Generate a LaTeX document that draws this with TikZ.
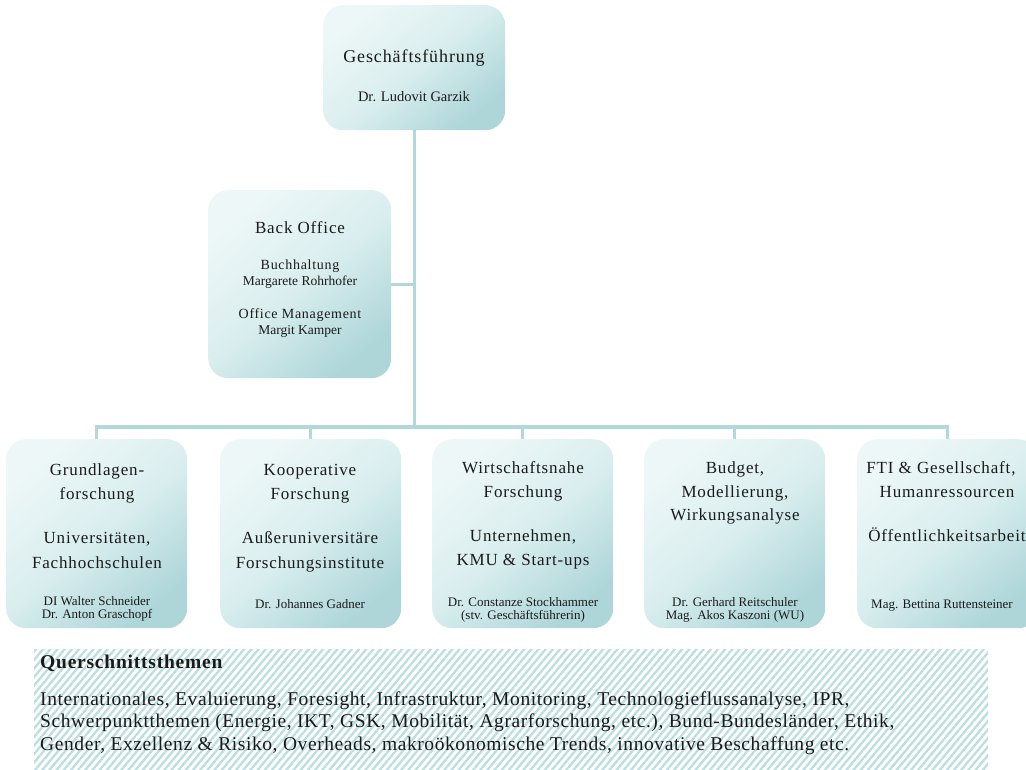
\documentclass[tikz,border=0pt]{standalone}
\usepackage{fontspec}
\setmainfont{Liberation Serif}
\newfontfamily\widefont[LetterSpace=5]{Liberation Serif}
\newfontfamily\qfont[LetterSpace=3]{Liberation Serif}
\newfontfamily\qbfont[LetterSpace=4]{Liberation Serif Bold}
\usetikzlibrary{patterns.meta}
\definecolor{linec}{HTML}{B3D8DC}
\definecolor{boxlight}{HTML}{EDF7F7}
\definecolor{boxmid}{HTML}{DAEEEF}
\definecolor{boxdark}{HTML}{AED6D9}
\definecolor{hatchc}{HTML}{BBDEDF}
\definecolor{txt}{HTML}{1A1A1A}
\tikzset{
  orgbox/.style={rounded corners=20pt, draw=none, inner sep=0pt,
    top color=boxlight, bottom color=boxdark, middle color=boxmid, shading angle=40,
    anchor=north west},
  conn/.style={draw=linec, line width=3.2pt},
  ttl/.style={font=\widefont\fontsize{17}{20}\selectfont, text=txt, anchor=base, inner sep=0pt},
  toptl/.style={font=\widefont\fontsize{18}{21}\selectfont, text=txt, anchor=base, inner sep=0pt},
  subt/.style={font=\widefont\fontsize{14}{17}\selectfont, text=txt, anchor=base, inner sep=0pt},
  pname/.style={font=\fontsize{13}{15}\selectfont, text=txt, anchor=base, inner sep=0pt},
  qtxt/.style={font=\qfont\fontsize{19.5}{22}\selectfont, text=txt, anchor=base west, inner sep=0pt},
  hatchbox/.style={draw=none, inner sep=0pt, anchor=north west,
    pattern={Lines[angle=50,distance=5.5pt,line width=2.3pt]}, pattern color=hatchc}
}
\begin{document}
\begin{tikzpicture}[x=1pt,y=-1pt]
\useasboundingbox (0,0) rectangle (1026,769);
% hatched box
\node[hatchbox, minimum width=954pt, minimum height=125pt] (qbox) at (33,648) {};
% boxes
\node[orgbox, minimum width=182pt, minimum height=125pt] (top) at (323,5) {};
\node[orgbox, minimum width=183pt, minimum height=188pt] (bo) at (208,190) {};
\node[orgbox, minimum width=181pt, minimum height=189pt] (b1) at (6,439) {};
\node[orgbox, minimum width=181pt, minimum height=189pt] (b2) at (220,439) {};
\node[orgbox, minimum width=181pt, minimum height=189pt] (b3) at (432,439) {};
\node[orgbox, minimum width=181pt, minimum height=189pt] (b4) at (644,439) {};
\node[orgbox, minimum width=181pt, minimum height=189pt] (b5) at (857,439) {};
% connectors
\coordinate (bus) at (414,427);
\draw[conn] (top.south) -- (top.south |- bus);
\draw[conn] (bo.east) -- (bo.east -| top.south);
\draw[conn] (b1.north) -- (b1.north |- bus) -- (b5.north |- bus) -- (b5.north);
\draw[conn] (b2.north) -- (b2.north |- bus);
\draw[conn] (b3.north) -- (b3.north |- bus);
\draw[conn] (b4.north) -- (b4.north |- bus);
% top box text
\node[toptl] (t1) at (414,62) {Geschäftsführung};
\node[font=\fontsize{14.5}{17}\selectfont, text=txt, anchor=base, inner sep=0pt] (t2) at (414,101) {Dr. Ludovit Garzik};
% back office
\node[ttl] (bo1) at (300,233) {Back Office};
\node[subt] (bo2) at (300,269) {Buchhaltung};
\node[font=\fontsize{13.5}{16}\selectfont, text=txt, anchor=base, inner sep=0pt] (bo3) at (300,285) {Margarete Rohrhofer};
\node[subt] (bo4) at (300,318) {Office Management};
\node[font=\fontsize{13.5}{16}\selectfont, text=txt, anchor=base, inner sep=0pt] (bo5) at (300,334) {Margit Kamper};
% box 1
\node[ttl] (a1) at (97,475) {Grundlagen-};
\node[ttl] (a2) at (97,499) {forschung};
\node[ttl] (a3) at (97,543) {Universitäten,};
\node[ttl] (a4) at (97,568) {Fachhochschulen};
\node[pname] (a5) at (97,605) {DI Walter Schneider};
\node[pname] (a6) at (97,618) {Dr. Anton Graschopf};
% box 2
\node[ttl] (c1) at (310,475) {Kooperative};
\node[ttl] (c2) at (310,499) {Forschung};
\node[ttl] (c3) at (310,543) {Außeruniversitäre};
\node[ttl] (c4) at (310,568) {Forschungsinstitute};
\node[pname] (c5) at (310,608) {Dr. Johannes Gadner};
% box 3
\node[ttl] (d1) at (523,473) {Wirtschaftsnahe};
\node[ttl] (d2) at (523,497) {Forschung};
\node[ttl] (d3) at (523,541) {Unternehmen,};
\node[ttl] (d4) at (523,565) {KMU \& Start-ups};
\node[pname] (d5) at (523,606) {Dr. Constanze Stockhammer};
\node[pname] (d6) at (523,619) {(stv. Geschäftsführerin)};
% box 4
\node[ttl] (e1) at (735,473) {Budget,};
\node[ttl] (e2) at (735,497) {Modellierung,};
\node[ttl] (e3) at (735,520) {Wirkungsanalyse};
\node[pname] (e4) at (735,606) {Dr. Gerhard Reitschuler};
\node[pname] (e5) at (735,619) {Mag. Akos Kaszoni (WU)};
% box 5
\node[ttl] (f1) at (941,473) {FTI \& Gesellschaft,};
\node[ttl] (f2) at (947,497) {Humanressourcen};
\node[ttl] (f3) at (947,541) {Öffentlichkeitsarbeit};
\node[pname] (f4) at (942,608) {Mag. Bettina Ruttensteiner};
% Querschnittsthemen
\node[qtxt, font=\qbfont\fontsize{19.5}{22}\selectfont] (q0) at (40,668) {Querschnittsthemen};
\node[qtxt] (q1) at (40,705) {Internationales, Evaluierung, Foresight, Infrastruktur, Monitoring, Technologieflussanalyse, IPR,};
\node[qtxt] (q2) at (40,727) {Schwerpunktthemen (Energie, IKT, GSK, Mobilität, Agrarforschung, etc.), Bund-Bundesländer, Ethik,};
\node[qtxt] (q3) at (40,750) {Gender, Exzellenz \& Risiko, Overheads, makroökonomische Trends, innovative Beschaffung etc.};
\end{tikzpicture}
\end{document}
